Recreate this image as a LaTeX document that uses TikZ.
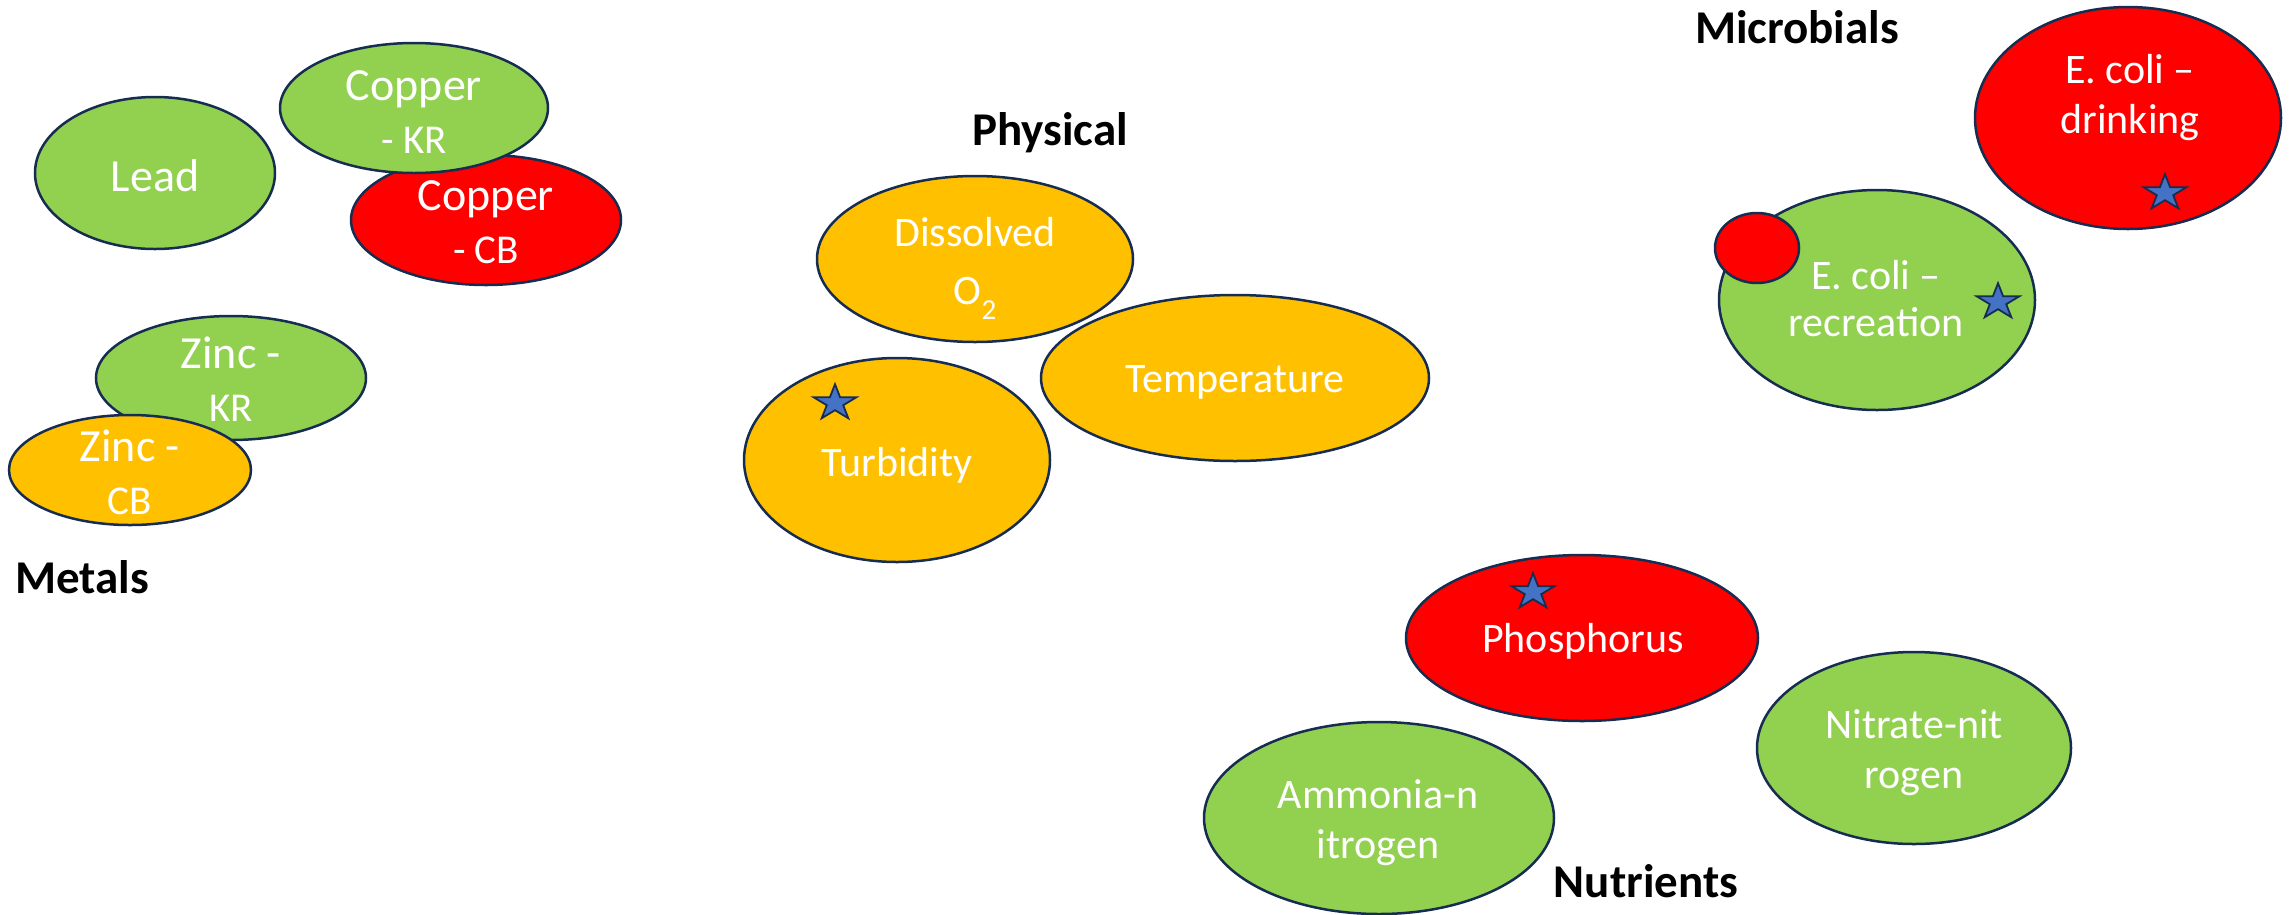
\documentclass[tikz,border=0pt]{standalone}
\usepackage{fontspec}
\setmainfont{Carlito}
\usetikzlibrary{shapes.geometric}
\definecolor{cgreen}{HTML}{92D050}
\definecolor{cred}{HTML}{FF0000}
\definecolor{corange}{HTML}{FFC000}
\definecolor{cedge}{HTML}{172C51}
\definecolor{cstar}{HTML}{4472C4}
\tikzset{
  blob/.style={ellipse, draw=cedge, line width=2.5pt, inner sep=0pt},
  greenblob/.style={blob, fill=cgreen},
  redblob/.style={blob, fill=cred},
  orangeblob/.style={blob, fill=corange},
  bigtxt/.style={text=white, anchor=base, inner sep=0pt, align=center, font=\fontsize{46}{53}\selectfont},
  smalltxt/.style={text=white, anchor=base, inner sep=0pt, align=center, font=\fontsize{42}{50}\selectfont},
  cattxt/.style={text=black, anchor=base, inner sep=0pt, font=\fontsize{47}{56}\selectfont\bfseries},
  bluestar/.pic={
    \draw[fill=cstar, draw=cedge, line width=1.8pt, line join=miter]
      (-90:1) -- (-54:0.382) -- (-18:1) -- (18:0.382) -- (54:1) -- (90:0.382)
      -- (126:1) -- (162:0.382) -- (198:1) -- (234:0.382) -- cycle;
  }
}
\newcommand{\sndline}[1]{{\fontsize{41}{53}\selectfont #1}}
\begin{document}
\begin{tikzpicture}[x=1pt,y=-1pt]
\useasboundingbox (0,0) rectangle (2292,914);

% ---------- shapes ----------
\node[greenblob, minimum width=240pt, minimum height=152pt] (lead) at (155,173) {};
\node[redblob, minimum width=270pt, minimum height=130pt] (cucb) at (486,220) {};
\node[greenblob, minimum width=268pt, minimum height=130pt] (cukr) at (414,108) {};
\node[greenblob, minimum width=270pt, minimum height=124pt] (znkr) at (231,378) {};
\node[orangeblob, minimum width=242pt, minimum height=110pt] (zncb) at (130,470) {};

\node[orangeblob, minimum width=316pt, minimum height=166pt] (dox) at (975,259) {};
\node[orangeblob, minimum width=388pt, minimum height=166pt] (temp) at (1235,378) {};
\node[orangeblob, minimum width=306pt, minimum height=204pt] (turb) at (897,460) {};

\node[redblob, minimum width=306pt, minimum height=222pt] (ecd) at (2128,118) {};
\node[greenblob, minimum width=316pt, minimum height=220pt] (ecr) at (1877,300) {};
\node[redblob, minimum width=84pt, minimum height=70pt] (dot) at (1757,248) {};

\node[redblob, minimum width=352pt, minimum height=166pt] (phos) at (1582,638) {};
\node[greenblob, minimum width=314pt, minimum height=192pt] (nitr) at (1914,748) {};
\node[greenblob, minimum width=350pt, minimum height=192pt] (ammo) at (1379,818) {};

% ---------- texts ----------
\node[bigtxt] (leadt) at (155,191) {Lead};
\node[bigtxt] (cucbt) at (486,263) {Copper\\\sndline{- CB}};
\node[bigtxt] (cukrt) at (414,153) {Copper\\\sndline{- KR}};
\node[bigtxt] (znkrt) at (231,421) {Zinc -\\\sndline{KR}};
\node[bigtxt] (zncbt) at (130,514) {Zinc -\\\sndline{CB}};
\node[cattxt, anchor=base west] (metals) at (15,593) {Metals};

\node[cattxt] (physical) at (1050,145) {Physical};
\node[smalltxt] (doxt) at (975,304) {Dissolved\\[8pt]O\raisebox{-15pt}{\fontsize{29}{30}\selectfont 2}};
\node[smalltxt] (tempt) at (1235,392) {Temperature};
\node[smalltxt] (turbt) at (897,476) {Turbidity};

\node[cattxt] (microbials) at (1797,43) {Microbials};
\node[smalltxt] (ecdt) at (2130,133) {E. coli –\\drinking};
\node[smalltxt, font=\fontsize{42}{47}\selectfont] (ecrt) at (1876,336) {E. coli –\\recreation};

\node[smalltxt] (phost) at (1583,652) {Phosphorus};
\node[smalltxt] (nitrt) at (1914,788) {Nitrate-nit\\rogen};
\node[smalltxt] (ammot) at (1378,858) {Ammonia-n\\itrogen};
\node[cattxt] (nutrients) at (1646,897) {Nutrients};

% ---------- stars ----------
\pic[xscale=22.6, yscale=18.8] at (835,403) {bluestar};
\pic[xscale=22.6, yscale=18.8] at (2165,193) {bluestar};
\pic[xscale=22.6, yscale=18.8] at (1998,302) {bluestar};
\pic[xscale=22.6, yscale=18.8] at (1533,592) {bluestar};
\end{tikzpicture}
\end{document}
